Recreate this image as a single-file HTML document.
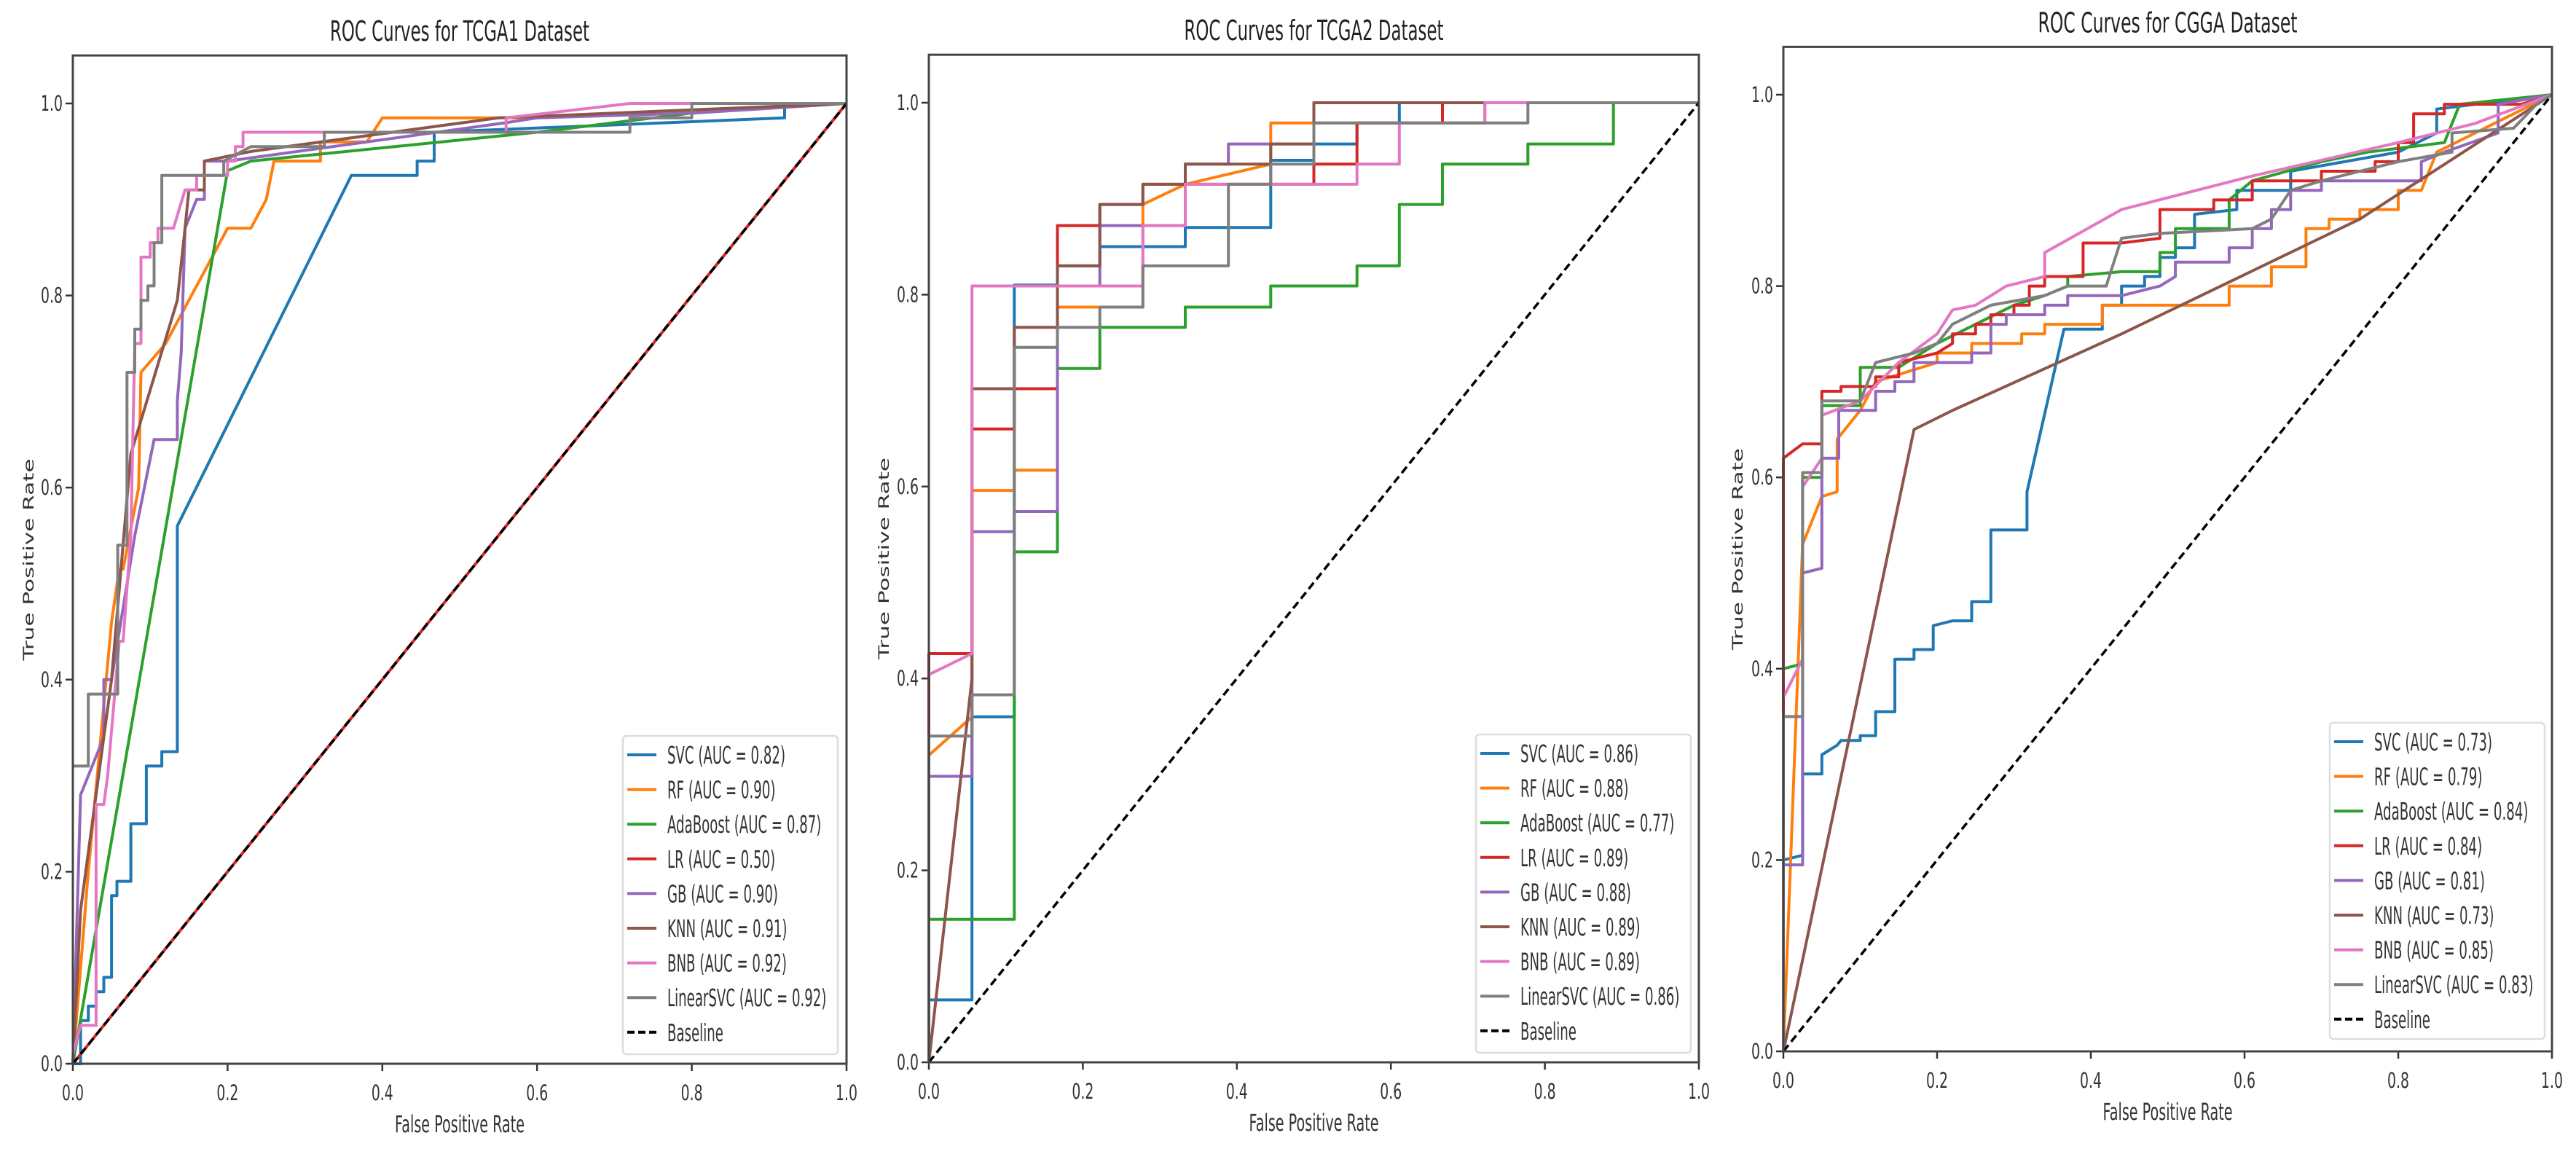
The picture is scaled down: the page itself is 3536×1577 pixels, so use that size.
<!DOCTYPE html>
<html><head><meta charset="utf-8"><style>
html,body{margin:0;padding:0;background:#fff;}
svg{display:block;font-family:"DejaVu Sans","Liberation Sans",sans-serif;}
</style></head><body>
<svg id="fig" width="3536" height="1577" viewBox="0 0 3536 1577" xmlns="http://www.w3.org/2000/svg"></svg>
<script>
const modelNames = ["SVC","RF","AdaBoost","LR","GB","KNN","BNB","LinearSVC"];
const modelColors = ["#1f77b4","#ff7f0e","#2ca02c","#d62728","#9467bd","#8c564b","#e377c2","#7f7f7f"];
const xTicks = [0,0.2,0.4,0.6,0.8,1.0];
const yTicks = [0,0.2,0.4,0.6,0.8,1.0];
const titles = ["ROC Curves for TCGA1 Dataset","ROC Curves for TCGA2 Dataset","ROC Curves for CGGA Dataset"];
const aucTCGA1 = ["0.82","0.90","0.87","0.50","0.90","0.91","0.92","0.92"];
const aucTCGA2 = ["0.86","0.88","0.77","0.89","0.88","0.89","0.89","0.86"];
const aucCGGA = ["0.73","0.79","0.84","0.84","0.81","0.73","0.85","0.83"];

const tcga1SVC=[[0,0],[0.01,0],[0.01,0.045],[0.02,0.045],[0.02,0.06],[0.03,0.06],[0.03,0.075],[0.04,0.075],[0.04,0.09],[0.05,0.09],[0.05,0.175],[0.057,0.175],[0.057,0.19],[0.075,0.19],[0.075,0.25],[0.095,0.25],[0.095,0.31],[0.115,0.31],[0.115,0.325],[0.135,0.325],[0.135,0.56],[0.36,0.925],[0.445,0.925],[0.445,0.94],[0.467,0.94],[0.467,0.97],[0.92,0.985],[0.92,1],[1,1]];
const tcga1RF=[[0,0],[0.02,0.2],[0.05,0.46],[0.06,0.515],[0.065,0.515],[0.085,0.6],[0.088,0.72],[0.12,0.75],[0.2,0.87],[0.23,0.87],[0.25,0.9],[0.26,0.94],[0.32,0.94],[0.32,0.96],[0.38,0.96],[0.4,0.985],[0.6,0.985],[1,1]];
const tcga1Ada=[[0,0],[0.2,0.93],[0.23,0.94],[0.6,0.97],[0.8,0.99],[1,1]];
const tcga1LR=[[0,0],[1,1]];
const tcga1GB=[[0,0],[0.01,0.28],[0.04,0.34],[0.04,0.4],[0.05,0.4],[0.08,0.55],[0.105,0.65],[0.135,0.65],[0.135,0.69],[0.14,0.74],[0.145,0.87],[0.16,0.9],[0.17,0.9],[0.17,0.94],[0.2,0.94],[0.56,0.98],[0.6,0.985],[0.8,0.99],[1,1]];
const tcga1KNN=[[0,0],[0.01,0.16],[0.05,0.4],[0.075,0.635],[0.135,0.795],[0.145,0.87],[0.15,0.91],[0.17,0.91],[0.17,0.94],[0.23,0.95],[0.55,0.985],[1,1]];
const tcga1BNB=[[0,0.01],[0.01,0.04],[0.03,0.04],[0.03,0.27],[0.04,0.27],[0.045,0.3],[0.06,0.44],[0.065,0.44],[0.075,0.55],[0.08,0.75],[0.088,0.75],[0.088,0.84],[0.1,0.84],[0.1,0.855],[0.11,0.855],[0.11,0.87],[0.13,0.87],[0.145,0.91],[0.16,0.91],[0.16,0.925],[0.2,0.925],[0.2,0.94],[0.21,0.94],[0.21,0.955],[0.22,0.955],[0.22,0.97],[0.56,0.97],[0.56,0.985],[0.72,1],[1,1]];
const tcga1LSVC=[[0,0.31],[0.02,0.31],[0.02,0.385],[0.058,0.385],[0.058,0.54],[0.07,0.54],[0.07,0.72],[0.08,0.72],[0.08,0.765],[0.088,0.765],[0.088,0.795],[0.097,0.795],[0.097,0.81],[0.105,0.81],[0.105,0.855],[0.115,0.855],[0.115,0.925],[0.195,0.925],[0.195,0.94],[0.23,0.955],[0.325,0.955],[0.325,0.97],[0.72,0.97],[0.72,0.985],[0.8,0.985],[0.8,1],[1,1]];

const tcga2SVC=[[0,0],[0,0.065],[0.056,0.065],[0.056,0.36],[0.111,0.36],[0.111,0.81],[0.167,0.81],[0.167,0.83],[0.222,0.83],[0.222,0.85],[0.333,0.85],[0.333,0.87],[0.444,0.87],[0.444,0.94],[0.5,0.94],[0.5,0.957],[0.556,0.957],[0.556,0.979],[0.611,0.979],[0.611,1],[1,1]];
const tcga2RF=[[0,0.32],[0.056,0.36],[0.056,0.596],[0.111,0.596],[0.111,0.617],[0.167,0.617],[0.167,0.787],[0.278,0.787],[0.278,0.894],[0.333,0.915],[0.444,0.936],[0.444,0.979],[0.722,0.979],[0.722,1],[1,1]];
const tcga2Ada=[[0,0],[0,0.149],[0.111,0.149],[0.111,0.532],[0.167,0.532],[0.167,0.723],[0.222,0.723],[0.222,0.766],[0.333,0.766],[0.333,0.787],[0.444,0.787],[0.444,0.809],[0.556,0.809],[0.556,0.83],[0.611,0.83],[0.611,0.894],[0.667,0.894],[0.667,0.936],[0.778,0.936],[0.778,0.957],[0.889,0.957],[0.889,1],[1,1]];
const tcga2LR=[[0,0],[0,0.426],[0.056,0.426],[0.056,0.66],[0.111,0.66],[0.111,0.702],[0.167,0.702],[0.167,0.872],[0.222,0.872],[0.222,0.894],[0.278,0.894],[0.278,0.915],[0.5,0.915],[0.5,0.936],[0.556,0.936],[0.556,0.979],[0.667,0.979],[0.667,1],[1,1]];
const tcga2GB=[[0,0],[0,0.298],[0.056,0.298],[0.056,0.553],[0.111,0.553],[0.111,0.574],[0.167,0.574],[0.167,0.809],[0.222,0.809],[0.222,0.872],[0.333,0.872],[0.333,0.936],[0.389,0.936],[0.389,0.957],[0.5,0.957],[0.5,1],[1,1]];
const tcga2KNN=[[0,0],[0.056,0.4],[0.056,0.702],[0.111,0.702],[0.111,0.766],[0.167,0.766],[0.167,0.83],[0.222,0.83],[0.222,0.894],[0.278,0.894],[0.278,0.915],[0.333,0.915],[0.333,0.936],[0.444,0.936],[0.444,0.957],[0.5,0.957],[0.5,1],[1,1]];
const tcga2BNB=[[0,0.404],[0.056,0.426],[0.056,0.809],[0.278,0.809],[0.278,0.872],[0.333,0.872],[0.333,0.915],[0.556,0.915],[0.556,0.936],[0.611,0.936],[0.611,0.979],[0.722,0.979],[0.722,1],[1,1]];
const tcga2LSVC=[[0,0],[0,0.34],[0.056,0.34],[0.056,0.383],[0.111,0.383],[0.111,0.745],[0.167,0.745],[0.167,0.766],[0.222,0.766],[0.222,0.787],[0.278,0.787],[0.278,0.83],[0.389,0.83],[0.389,0.915],[0.444,0.915],[0.444,0.936],[0.5,0.936],[0.5,0.979],[0.778,0.979],[0.778,1],[1,1]];

const cggaSVC=[[0,0],[0,0.2],[0.025,0.205],[0.025,0.29],[0.05,0.29],[0.05,0.31],[0.07,0.32],[0.075,0.325],[0.1,0.325],[0.1,0.33],[0.12,0.33],[0.12,0.355],[0.145,0.355],[0.145,0.41],[0.17,0.41],[0.17,0.42],[0.195,0.42],[0.195,0.445],[0.22,0.45],[0.245,0.45],[0.245,0.47],[0.27,0.47],[0.27,0.545],[0.317,0.545],[0.317,0.585],[0.365,0.755],[0.415,0.755],[0.415,0.78],[0.44,0.78],[0.44,0.8],[0.47,0.8],[0.47,0.81],[0.49,0.81],[0.49,0.83],[0.51,0.83],[0.51,0.84],[0.535,0.84],[0.535,0.875],[0.59,0.88],[0.59,0.9],[0.66,0.9],[0.66,0.92],[0.8,0.94],[0.85,0.96],[0.85,0.985],[1,1]];
const cggaRF=[[0,0],[0.025,0.53],[0.05,0.58],[0.07,0.585],[0.07,0.64],[0.1,0.67],[0.12,0.7],[0.2,0.72],[0.2,0.73],[0.245,0.73],[0.245,0.74],[0.31,0.74],[0.31,0.75],[0.34,0.75],[0.34,0.76],[0.415,0.76],[0.415,0.78],[0.58,0.78],[0.58,0.8],[0.635,0.8],[0.635,0.82],[0.68,0.82],[0.68,0.86],[0.71,0.86],[0.71,0.87],[0.75,0.87],[0.75,0.88],[0.8,0.88],[0.8,0.9],[0.83,0.9],[0.85,0.94],[1,1]];
const cggaAda=[[0,0],[0,0.4],[0.025,0.405],[0.025,0.6],[0.05,0.6],[0.05,0.675],[0.1,0.675],[0.1,0.715],[0.15,0.715],[0.2,0.74],[0.25,0.76],[0.3,0.78],[0.34,0.79],[0.37,0.8],[0.37,0.81],[0.44,0.815],[0.49,0.815],[0.49,0.835],[0.51,0.835],[0.51,0.86],[0.58,0.86],[0.58,0.89],[0.61,0.91],[0.7,0.93],[0.76,0.94],[0.86,0.95],[0.88,0.99],[1,1]];
const cggaLR=[[0,0],[0,0.62],[0.025,0.635],[0.05,0.635],[0.05,0.69],[0.075,0.69],[0.075,0.695],[0.12,0.695],[0.12,0.705],[0.15,0.705],[0.15,0.72],[0.2,0.73],[0.22,0.74],[0.22,0.75],[0.25,0.75],[0.25,0.76],[0.27,0.76],[0.27,0.77],[0.3,0.77],[0.3,0.78],[0.32,0.78],[0.32,0.8],[0.34,0.8],[0.34,0.81],[0.39,0.81],[0.39,0.845],[0.44,0.845],[0.49,0.85],[0.49,0.88],[0.56,0.88],[0.56,0.89],[0.61,0.89],[0.61,0.91],[0.7,0.91],[0.7,0.92],[0.77,0.92],[0.77,0.93],[0.8,0.93],[0.8,0.95],[0.82,0.95],[0.82,0.98],[0.86,0.98],[0.86,0.99],[0.96,0.99],[1,1]];
const cggaGB=[[0,0],[0,0.195],[0.025,0.195],[0.025,0.5],[0.05,0.505],[0.05,0.62],[0.072,0.62],[0.072,0.67],[0.12,0.67],[0.12,0.69],[0.145,0.69],[0.145,0.7],[0.17,0.7],[0.17,0.72],[0.245,0.72],[0.245,0.73],[0.27,0.73],[0.27,0.76],[0.29,0.76],[0.29,0.77],[0.34,0.77],[0.34,0.78],[0.37,0.78],[0.37,0.79],[0.44,0.79],[0.49,0.8],[0.51,0.81],[0.51,0.825],[0.58,0.825],[0.58,0.84],[0.61,0.84],[0.61,0.86],[0.635,0.86],[0.635,0.88],[0.66,0.88],[0.66,0.9],[0.7,0.9],[0.7,0.91],[0.83,0.91],[0.83,0.93],[0.86,0.94],[0.93,0.96],[0.93,0.99],[1,1]];
const cggaKNN=[[0,0],[0.17,0.65],[0.22,0.67],[0.44,0.75],[0.75,0.87],[1,1]];
const cggaBNB=[[0,0.37],[0.025,0.41],[0.025,0.59],[0.05,0.62],[0.05,0.665],[0.1,0.68],[0.15,0.72],[0.2,0.75],[0.22,0.775],[0.25,0.78],[0.29,0.8],[0.34,0.81],[0.34,0.835],[0.44,0.88],[0.61,0.915],[0.8,0.95],[0.9,0.97],[1,1]];
const cggaLSVC=[[0,0],[0,0.35],[0.025,0.35],[0.025,0.605],[0.05,0.605],[0.05,0.68],[0.1,0.68],[0.12,0.72],[0.17,0.73],[0.2,0.74],[0.22,0.76],[0.27,0.78],[0.34,0.79],[0.37,0.8],[0.42,0.8],[0.44,0.85],[0.49,0.855],[0.61,0.86],[0.635,0.87],[0.66,0.9],[0.7,0.91],[0.8,0.93],[0.87,0.94],[0.87,0.96],[0.95,0.965],[0.98,0.99],[1,1]];

const NS="http://www.w3.org/2000/svg";
const svg=document.getElementById('fig');
function el(tag,attrs,parent){const e=document.createElementNS(NS,tag);for(const k in attrs)e.setAttribute(k,attrs[k]);(parent||svg).appendChild(e);return e;}
function txt(parent,x,y,str,size,anchor,sx,extra){
  const t=el('text',Object.assign({x:0,y:0,'text-anchor':anchor,'font-size':size,fill:'#333',transform:`translate(${x} ${y}) scale(${sx} 1)`},extra||{}),parent);
  t.textContent=str;return t;
}

const panels=[
 {L:100,R:1162,y1:142,y0:1460,ylab:38,title:titles[0],auc:aucTCGA1,curves:[tcga1SVC,tcga1RF,tcga1Ada,tcga1LR,tcga1GB,tcga1KNN,tcga1BNB,tcga1LSVC],leg:[855,1010,295,437],id:'tcga1'},
 {L:1275,R:2332,y1:141,y0:1458,ylab:1212,title:titles[1],auc:aucTCGA2,curves:[tcga2SVC,tcga2RF,tcga2Ada,tcga2LR,tcga2GB,tcga2KNN,tcga2BNB,tcga2LSVC],leg:[2026,1008,295,437],id:'tcga2'},
 {L:2448,R:3503,y1:130,y0:1443,ylab:2384,title:titles[2],auc:aucCGGA,curves:[cggaSVC,cggaRF,cggaAda,cggaLR,cggaGB,cggaKNN,cggaBNB,cggaLSVC],leg:[3198,992,295,434],id:'cgga'}
];

panels.forEach(p=>{
  const g=el('g',{});
  
  
  const sx=v=>p.L+v*(p.R-p.L);
  const sy=v=>p.y0-v*(p.y0-p.y1);
  const T=sy(1.05);
  const t=el('text',{x:(p.L+p.R)/2,y:T-20,'text-anchor':'middle','font-size':38,fill:'#222',textLength:356,lengthAdjust:'spacingAndGlyphs'},g);
  t.textContent=p.title;
  
  
  xTicks.forEach(v=>{
    el('line',{x1:sx(v),x2:sx(v),y1:p.y0,y2:p.y0+10,stroke:'#333','stroke-width':2.5},g);
    const tx=txt(g,sx(v),p.y0+50,v.toFixed(1),29,'middle',0.65);
    
    
  });
  yTicks.forEach(v=>{
    el('line',{x1:p.L-10,x2:p.L,y1:sy(v),y2:sy(v),stroke:'#333','stroke-width':2.5},g);
    const ty=txt(g,p.L-14,sy(v)+10,v.toFixed(1),29,'end',0.65);
    
    
  });
  const xl=el('text',{x:(p.L+p.R)/2,y:p.y0+94,'text-anchor':'middle','font-size':32,fill:'#333',textLength:178,lengthAdjust:'spacingAndGlyphs'},g);
  xl.textContent='False Positive Rate';
  
  
  const yy=(T+p.y0)/2;
  const yl=el('text',{x:0,y:0,'text-anchor':'middle','font-size':28,fill:'#333',textLength:277,lengthAdjust:'spacingAndGlyphs',transform:`translate(${p.ylab+8} ${yy}) rotate(-90) scale(1 0.7)`},g);
  yl.textContent='True Positive Rate';
  
  
  p.curves.forEach((c,i)=>{
    const pl=el('polyline',{points:c.map(d=>sx(d[0]).toFixed(1)+','+sy(d[1]).toFixed(1)).join(' '),fill:'none',stroke:modelColors[i],'stroke-width':4,'stroke-linejoin':'round'},g);
    
    
  });
  const bl=el('line',{x1:sx(0),y1:sy(0),x2:sx(1),y2:sy(1),stroke:'#000','stroke-width':3.5,'stroke-dasharray':'11,6'},g);
  
  
  const fr=el('rect',{x:p.L,y:T,width:p.R-p.L,height:p.y0-T,fill:'none',stroke:'#444','stroke-width':3},g);
  
  
  const [lx,ly,lw,lh]=p.leg;
  const lg=el('g',{},g);
  
  
  el('rect',{x:lx,y:ly,width:lw,height:lh,rx:5,fill:'#fff','fill-opacity':0.85,stroke:'#ddd','stroke-width':2.5},lg);
  const labels=modelNames.map((n,i)=>`${n} (AUC = ${p.auc[i]})`).concat(['Baseline']);
  labels.forEach((lab,i)=>{
    const y=ly+26+i*47.6;
    const col=i<8?modelColors[i]:'#000';
    const ln=el('line',{x1:lx+6,x2:lx+46,y1:y,y2:y,stroke:col,'stroke-width':4,'stroke-dasharray':i<8?'none':'10,5'},lg);
    
    
    const tx=txt(lg,lx+61,y+12,lab,33,'start',0.55);
    
    
  });
});
</script>
</body></html>
